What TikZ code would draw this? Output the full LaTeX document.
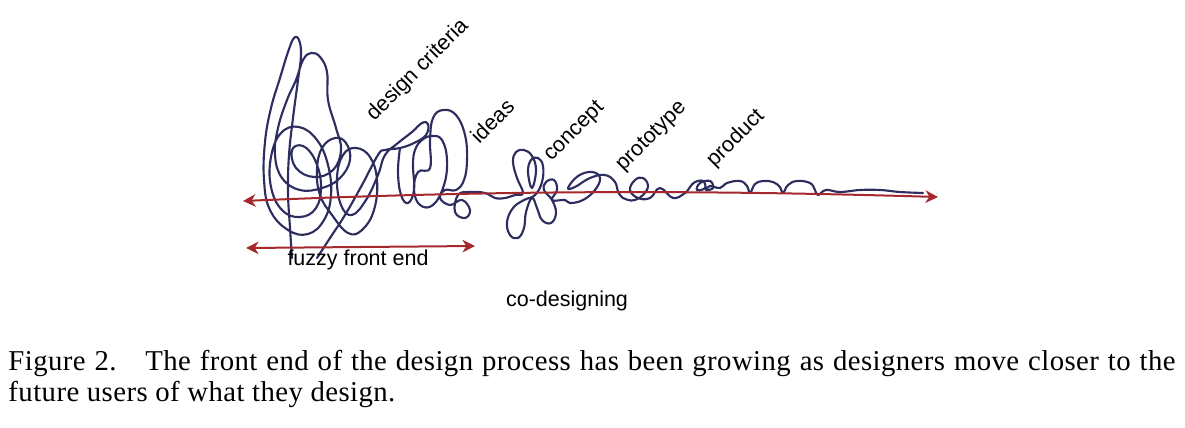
\documentclass[tikz,border=0pt]{standalone}
\usepackage{fontspec}
\setmainfont{Liberation Serif}
\newfontfamily\labelfont{Liberation Sans}
\newfontfamily\capfont[LetterSpace=1.5]{Liberation Serif}
\usetikzlibrary{arrows.meta}
\definecolor{inkblue}{RGB}{45,45,95}
\definecolor{penred}{RGB}{165,40,45}

\begin{document}
\begin{tikzpicture}[x=0.4pt, y=-0.4pt,
  scribble/.style={draw=inkblue, line width=0.85pt, line join=round, line cap=round},
  arrowline/.style={draw=penred, line width=0.8pt, {Stealth[length=5pt,width=5pt,inset=1.5pt]}-{Stealth[length=5pt,width=5pt,inset=1.5pt]}},
  lbl/.style={inner sep=0pt, font=\labelfont\fontsize{8.6}{10}\selectfont}]
\useasboundingbox (0,0) rectangle (1185,427);
% fuzzy loops on the left
\draw[scribble] plot[smooth, tension=0.7] coordinates {
  (292,258) (290,228) (288,192) (289,155) (293,118) (298,80) (301,55) (299,40) (294,38)
  (288,52) (280,78) (271,108) (265,142) (264,180) (270,210) (288,230) (308,234) (324,220)
  (331,195) (328,165) (317,140) (299,127) (281,133) (271,157) (271,187) (282,210) (300,217)
  (316,208) (321,185) (315,160) (303,146) (292,150) (296,168) (314,177) (333,170) (341,150)
  (336,128) (328,100) (327,72) (320,57) (311,53) (303,60) (296,80) (287,100) (278,128)
  (275,155) (282,178) (300,190) (322,188) (340,178) (350,160) (346,143) (335,138) (322,148)
  (317,170) (320,195) (332,215) (348,233) (362,230) (374,210) (377,180) (370,157) (356,148)
  (343,155) (337,178) (341,205) (352,215) (366,200) (378,175) (385,155) (398,143) (412,132)
  (422,123) (428,124) (426,135) (414,143) (400,148) (385,150) (378,155) (362,185) (345,215)
  (330,238) (317,258)};
% ideas, concept, prototype, product
\draw[scribble] plot[smooth, tension=0.7] coordinates {
  (400,148) (398,172) (401,195) (408,203) (414,190) (413,165) (415,150) (422,140) (432,136)
  (442,140) (447,160) (444,185) (433,205) (420,205) (414,190) (418,172) (430,168) (430,140)
  (433,118) (443,110) (456,115) (465,135) (467,160) (464,180) (456,190) (445,190) (440,198)
  (450,205) (462,200) (470,210) (465,218) (455,212) (458,195) (470,192) (485,193) (495,198)
  (505,198) (515,195) (523,193) (517,178) (513,162) (516,152) (524,150) (532,156) (536,170)
  (532,188) (528,172) (531,160) (538,158) (543,166) (542,182) (535,195) (524,200) (513,208)
  (507,222) (510,235) (518,238) (524,228) (526,212) (532,198) (537,208) (542,220) (551,223)
  (556,213) (552,200) (544,190) (546,182) (554,180) (557,190) (552,200) (565,200) (570,203)
  (583,200) (595,190) (600,178) (592,172) (578,176) (568,188) (575,187) (590,178) (605,175)
  (615,182) (618,192) (623,198) (628,200) (635,200) (643,195) (648,186) (643,178) (635,180)
  (630,190) (638,198) (650,198) (660,188) (673,198) (685,193) (690,187) (695,182) (703,181)
  (705,188) (697,190) (700,183) (710,181) (713,188) (706,190) (710,186) (720,188) (727,183)
  (740,181) (747,186) (750,193) (755,184) (763,181) (773,182) (780,187) (783,193) (788,185)
  (797,181) (810,183) (815,190) (818,195) (826,190) (840,192) (860,190) (880,190) (900,192)
  (923,193)};
% arrows
\coordinate (tl) at (243,201);
\coordinate (tr) at (938,197);
\coordinate (fl) at (246,248);
\coordinate (fr) at (475,246);
\draw[arrowline] (tl) .. controls (500,190) and (700,190) .. (tr);
\draw[arrowline] (fl) -- (fr);
% labels
\node[lbl, rotate=45, anchor=base west] (crit) at (374,122) {design criteria};
\node[lbl, rotate=45, anchor=base west] (ideas) at (479,145) {ideas};
\node[lbl, rotate=45, anchor=base west] (concept) at (551,162) {concept};
\node[lbl, rotate=45, anchor=base west] (proto) at (623,172) {prototype};
\node[lbl, rotate=45, anchor=base west] (product) at (714,168) {product};
\node[lbl, anchor=base west] (fuzzy) at (287,265) {fuzzy front end};
\node[lbl, anchor=base] (codes) at (567,306) {co-designing};
\node[anchor=north west, inner sep=0pt, text width=466.8pt, align=justify,
  font=\capfont\fontsize{11.5}{12.4}\selectfont] (caption) at (8,350)
  {Figure 2.\quad The front end of the design process has been growing as designers move closer to the\linebreak future users of what they design.};
\end{tikzpicture}
\end{document}
